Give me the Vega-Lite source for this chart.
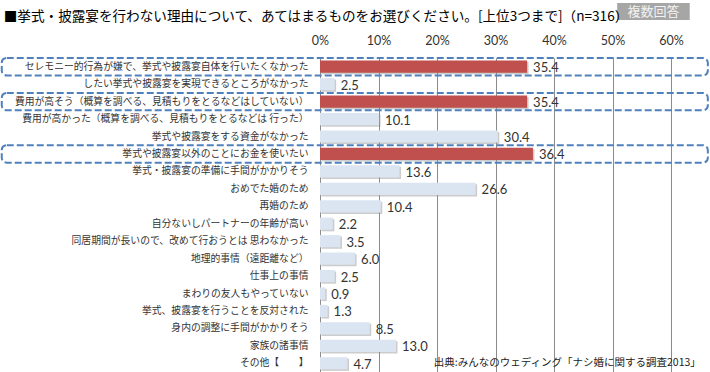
{
  "$schema": "https://vega.github.io/schema/vega-lite/v6.json",
  "width": 351,
  "height": 314,
  "autosize": {"type": "none"},
  "padding": {"left": 320, "top": 58, "right": 39, "bottom": 0},
  "background": "white",
  "config": {"view": {"stroke": null}, "font": "Noto Sans CJK JP"},
  "title": {
    "text": "■挙式・披露宴を行わない理由について、あてはまるものをお選びください。[上位3つまで]（n=316）",
    "anchor": "start",
    "frame": "bounds",
    "dx": 3,
    "offset": -21,
    "fontSize": 13.6,
    "font": "Noto Sans CJK JP",
    "fontWeight": "normal",
    "color": "#000000"
  },
  "data": {
    "values": [
      {"reason": "セレモニー的行為が嫌で、挙式や披露宴自体を行いたくなかった", "pct": 35.4, "highlight": "yes"},
      {"reason": "したい挙式や披露宴を実現できるところがなかった", "pct": 2.5, "highlight": "no"},
      {"reason": "費用が高そう（概算を調べる、見積もりをとるなどはしていない）", "pct": 35.4, "highlight": "yes"},
      {"reason": "費用が高かった（概算を調べる、見積もりをとるなどは 行った）", "pct": 10.1, "highlight": "no"},
      {"reason": "挙式や披露宴をする資金がなかった", "pct": 30.4, "highlight": "no"},
      {"reason": "挙式や披露宴以外のことにお金を使いたい", "pct": 36.4, "highlight": "yes"},
      {"reason": "挙式・披露宴の準備に手間がかかりそう", "pct": 13.6, "highlight": "no"},
      {"reason": "おめでた婚のため", "pct": 26.6, "highlight": "no"},
      {"reason": "再婚のため", "pct": 10.4, "highlight": "no"},
      {"reason": "自分ないしパートナーの年齢が高い", "pct": 2.2, "highlight": "no"},
      {"reason": "同居期間が長いので、改めて行おうとは 思わなかった", "pct": 3.5, "highlight": "no"},
      {"reason": "地理的事情（遠距離など）", "pct": 6.0, "highlight": "no"},
      {"reason": "仕事上の事情", "pct": 2.5, "highlight": "no"},
      {"reason": "まわりの友人もやっていない", "pct": 0.9, "highlight": "no"},
      {"reason": "挙式、披露宴を行うことを反対された", "pct": 1.3, "highlight": "no"},
      {"reason": "身内の調整に手間がかかりそう", "pct": 8.5, "highlight": "no"},
      {"reason": "家族の諸事情", "pct": 13.0, "highlight": "no"},
      {"reason": "その他【　　】", "pct": 4.7, "highlight": "no"}
    ]
  },
  "layer": [
    {
      "encoding": {
        "y": {
          "field": "reason",
          "type": "nominal",
          "sort": null,
          "scale": {"paddingInner": 0, "paddingOuter": 0},
          "axis": {
            "title": null,
            "ticks": false,
            "domain": false,
            "labelPadding": 12,
            "labelFontSize": 9.8,
            "labelFont": "Noto Sans CJK JP",
            "labelColor": "#333333",
            "labelLimit": 330
          }
        }
      },
      "layer": [
        {
          "mark": {"type": "bar", "height": {"band": 0.7}, "color": "#8f8f8f", "opacity": 0.45, "xOffset": 1.5, "yOffset": 1.5},
          "encoding": {
            "x": {
              "field": "pct",
              "type": "quantitative",
              "scale": {"domain": [0, 60], "nice": false},
              "axis": {
                "orient": "top",
                "values": [0, 10, 20, 30, 40, 50, 60],
                "labelExpr": "datum.value + '%'",
                "labelFlush": false,
                "labelOverlap": false,
                "title": null,
                "grid": true,
                "gridColor": "#8c8c8c",
                "gridWidth": 1,
                "ticks": false,
                "tickSize": 0,
                "domain": false,
                "labelPadding": 11,
                "labelFont": "Lato",
                "labelFontSize": 12.5,
                "labelColor": "#333333"
              }
            }
          }
        },
        {
          "mark": {"type": "bar", "height": {"band": 0.7}},
          "encoding": {
            "x": {"field": "pct", "type": "quantitative", "scale": {"domain": [0, 60], "nice": false}},
            "color": {
              "field": "highlight",
              "type": "nominal",
              "scale": {"domain": ["yes", "no"], "range": ["#c0504d", "#dbe5f1"]},
              "legend": null
            }
          }
        },
        {
          "mark": {"type": "text", "align": "left", "baseline": "middle", "dx": 6, "dy": 1.5, "font": "Lato", "fontSize": 13, "color": "#333333"},
          "encoding": {
            "x": {"field": "pct", "type": "quantitative", "scale": {"domain": [0, 60], "nice": false}},
            "text": {"field": "pct", "type": "quantitative", "format": ".1f"}
          }
        },
        {
          "transform": [{"filter": "datum.highlight === 'yes'"}],
          "mark": {"type": "rect", "fill": null, "fillOpacity": 0, "stroke": "#4f81bd", "strokeWidth": 2, "strokeDash": [7, 3], "cornerRadius": 5},
          "encoding": {
            "x": {"datum": -54.4, "type": "quantitative", "scale": {"domain": [0, 60], "nice": false}},
            "x2": {"datum": 66.3}
          }
        },
        {
          "data": {"values": [{"reason": "その他【　　】", "src": "出典:みんなのウェディング「ナシ婚に関する調査2013」"}]},
          "mark": {"type": "text", "align": "right", "baseline": "middle", "font": "Noto Sans CJK JP", "fontSize": 10.5, "color": "#222222"},
          "encoding": {
            "x": {"datum": 65.1, "type": "quantitative", "scale": {"domain": [0, 60], "nice": false}},
            "text": {"field": "src", "type": "nominal"}
          }
        }
      ]
    },
    {
      "data": {"values": [{"badge": "複数回答", "lo": 0, "hi": 1, "mid": 0.5}]},
      "layer": [
        {
          "mark": {"type": "rect", "color": "#a6a6a6"},
          "encoding": {
            "x": {"datum": 50.8, "type": "quantitative", "scale": {"domain": [0, 60], "nice": false}},
            "x2": {"datum": 63.2},
            "y": {"field": "lo", "type": "quantitative", "scale": {"domain": [0, 1], "range": [-38, -55]}, "axis": null},
            "y2": {"field": "hi"}
          }
        },
        {
          "mark": {"type": "text", "align": "center", "baseline": "middle", "font": "Noto Sans CJK JP", "fontSize": 13, "color": "#f2f2f2"},
          "encoding": {
            "x": {"datum": 57.0, "type": "quantitative", "scale": {"domain": [0, 60], "nice": false}},
            "y": {"field": "mid", "type": "quantitative", "scale": {"domain": [0, 1], "range": [-38, -55]}, "axis": null},
            "text": {"field": "badge", "type": "nominal"}
          }
        }
      ]
    }
  ],
  "resolve": {"scale": {"y": "independent"}}
}
